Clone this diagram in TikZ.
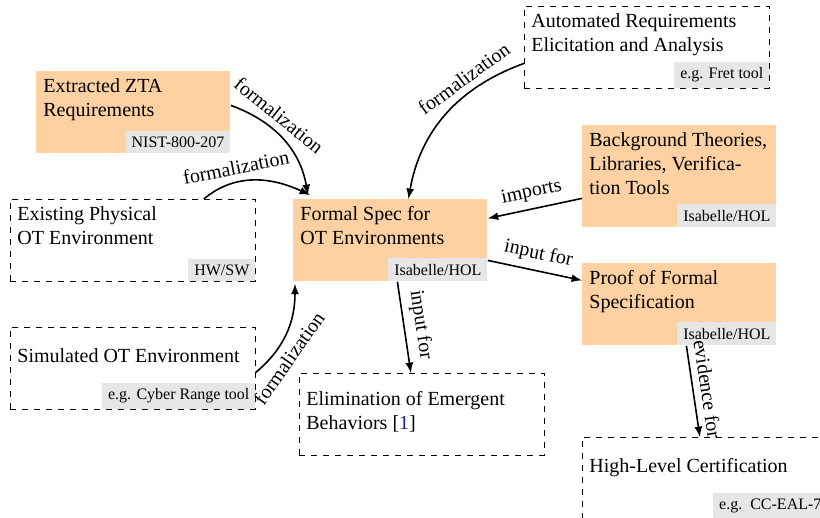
\documentclass[tikz,border=0pt]{standalone}
\usepackage{fontspec}
\setmainfont{Liberation Serif}
\usepackage{xcolor}
\usepackage{tikz}

\definecolor{specfill}{HTML}{FDD1A1}
\definecolor{taggray}{HTML}{E6E6E6}
\definecolor{citeblue}{HTML}{1F1F9E}

\begin{document}
\begin{tikzpicture}[x=1pt,y=1pt,
    fbox/.style={fill=specfill, minimum width=97pt, minimum height=41pt, anchor=north west, inner sep=0pt},
    dbox/.style={draw, dashed, minimum width=122.5pt, minimum height=41pt, anchor=north west, inner sep=0pt},
    btext/.style={anchor=north west, align=left, inner sep=3.5pt},
    tag/.style={anchor=south east, fill=taggray, font=\footnotesize, inner sep=3pt},
    flow/.style={thick, -latex}]
             \useasboundingbox (0,0) rectangle (410,-259);

             \node[fbox] (zta) at (18,-35.5) {};
             \node[btext] (zta-t) at (zta.north west) {Extracted ZTA\\Requirements};
             \node[tag] (zta-tag) at (zta.south east) {NIST-800-207};

             \node[dbox] (phys) at (5,-99.5) {};
             \node[btext] (phys-t) at (phys.north west) {Existing Physical\\OT Environment};
             \node[tag] (phys-tag) at (phys.south east) {HW/SW};

             \node[dbox] (sim) at (5,-163.5) {};
             \node[btext] (sim-t) at ([yshift=-7pt]sim.north west) {Simulated OT Environment};
             \node[tag] (sim-tag) at (sim.south east) {e.g. Cyber Range tool};

             \node[fbox] (spec) at (146.5,-99.5) {};
             \node[btext] (spec-t) at (spec.north west) {Formal Spec for\\OT Environments};
             \node[tag] (spec-tag) at (spec.south east) {Isabelle/HOL};

             \node[dbox] (elim) at (149.5,-186.5) {};
             \node[btext] (elim-t) at ([yshift=-5.5pt]elim.north west) {Elimination of Emergent\\Behaviors [{\color{citeblue}1}]};

             \node[dbox] (auto) at (262,-3) {};
             \node[btext] (auto-t) at (auto.north west) {Automated Requirements\\Elicitation and Analysis};
             \node[tag] (auto-tag) at (auto.south east) {e.g. Fret tool};

             \node[fbox, minimum height=51pt] (bg) at (291,-62.5) {};
             \node[btext] (bg-t) at (bg.north west) {Background Theories,\\Libraries, Verifica-\\tion Tools};
             \node[tag] (bg-tag) at (bg.south east) {Isabelle/HOL};

             \node[fbox] (proof) at (291,-131.5) {};
             \node[btext] (proof-t) at (proof.north west) {Proof of Formal\\Specification};
             \node[tag] (proof-tag) at (proof.south east) {Isabelle/HOL};

             \node[dbox] (cert) at (291,-218.5) {};
             \node[btext] (cert-t) at ([yshift=-7pt]cert.north west) {High-Level Certification};
             \node[tag] (cert-tag) at (cert.south east) {e.g.\ \ CC-EAL-7};

             \draw[flow] ([yshift=3.5pt]zta.east) to[out=-20,in=100]
                node[pos=.35, above, sloped] (f1) {formalization} ([shift={(7.5pt,2pt)}]spec.north west);
             \draw[flow] ([xshift=-26pt]phys.north east) to[out=40,in=155]
                node[pos=.35, above, sloped] (f2) {formalization} ([shift={(8.5pt,2pt)}]spec.north west);
             \draw[flow] ([yshift=-2pt]sim.east) to[out=40,in=-90]
                node[pos=.3, below, sloped] (f3) {formalization} ([shift={(1pt,-1pt)}]spec.south west);
             \draw[flow] ([yshift=-8pt]auto.west) to[out=200,in=80]
                node[pos=.3, above, sloped] (f4) {formalization} ([xshift=9pt]spec.north);

             \draw[flow] ([yshift=-11pt]bg.west) -- node[midway, above, sloped] (imp) {imports} ([yshift=11pt]spec.east);
             \draw[flow] ([yshift=-10pt]spec.east) -- node[midway, above, sloped] (in1) {input for} ([yshift=12pt]proof.west);
             \draw[flow] ([xshift=3.5pt]spec.south) -- node[midway, above, sloped] (in2) {input for} ([xshift=-5.5pt]elim.north);
             \draw[flow] ([xshift=3.5pt]proof.south) -- node[midway, above, sloped] (ev) {evidence for} ([xshift=-2.5pt]cert.north);
\end{tikzpicture}
\end{document}
